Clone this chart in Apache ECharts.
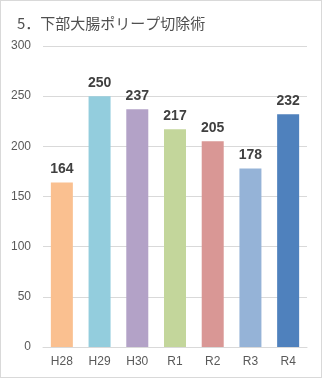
<!DOCTYPE html>
<html>
<head>
<meta charset="utf-8">
<script src="https://cdn.jsdelivr.net/npm/echarts@6/dist/echarts.min.js"></script>
<style>
html, body { margin: 0; padding: 0; background: #fff; }
#frame { position: absolute; left: 0; top: 0; width: 320px; height: 376px; border: 1px solid #d9d9d9; }
#chart { width: 323px; height: 379px; }
</style>
</head>
<body>
<div id="frame"></div>
<div id="chart"></div>
<script>
// Fiscal years and number of procedures
const years = ['H28', 'H29', 'H30', 'R1', 'R2', 'R3', 'R4'];
const counts = [164, 250, 237, 217, 205, 178, 232];
const barColors = ['#FAC090', '#93CDDD', '#B3A2C7', '#C3D69B', '#D99795', '#95B3D7', '#4F81BD'];
const yTicks = [0, 50, 100, 150, 200, 250, 300];

const chart = echarts.init(document.getElementById('chart'), null, { renderer: 'canvas' });
chart.setOption({
  animation: false,
  title: {
    text: '5．下部大腸ポリープ切除術',
    left: 12,
    top: 11,
    textStyle: { fontSize: 15, fontWeight: 'normal', color: '#505050', fontFamily: 'Noto Sans CJK JP' }
  },
  grid: { left: 43, right: 16, top: 46, bottom: 32 },
  xAxis: {
    type: 'category',
    data: years,
    axisLine: { lineStyle: { color: '#d9d9d9' } },
    axisTick: { show: false },
    axisLabel: { color: '#595959', fontSize: 12, margin: 9, fontFamily: 'Liberation Sans' }
  },
  yAxis: {
    type: 'value',
    min: yTicks[0],
    max: yTicks[yTicks.length - 1],
    interval: 50,
    axisLine: { show: false },
    axisTick: { show: false },
    splitLine: { lineStyle: { color: '#d9d9d9' } },
    axisLabel: { color: '#595959', fontSize: 12, margin: 12, fontFamily: 'Liberation Sans' }
  },
  series: [{
    type: 'bar',
    barWidth: 22,
    data: counts.map((v, i) => ({ value: v, itemStyle: { color: barColors[i] } })),
    label: {
      show: true,
      position: 'top',
      distance: 6,
      color: '#404040',
      fontSize: 14,
      fontWeight: 'bold',
      fontFamily: 'Liberation Sans'
    }
  }]
});
</script>
</body>
</html>
